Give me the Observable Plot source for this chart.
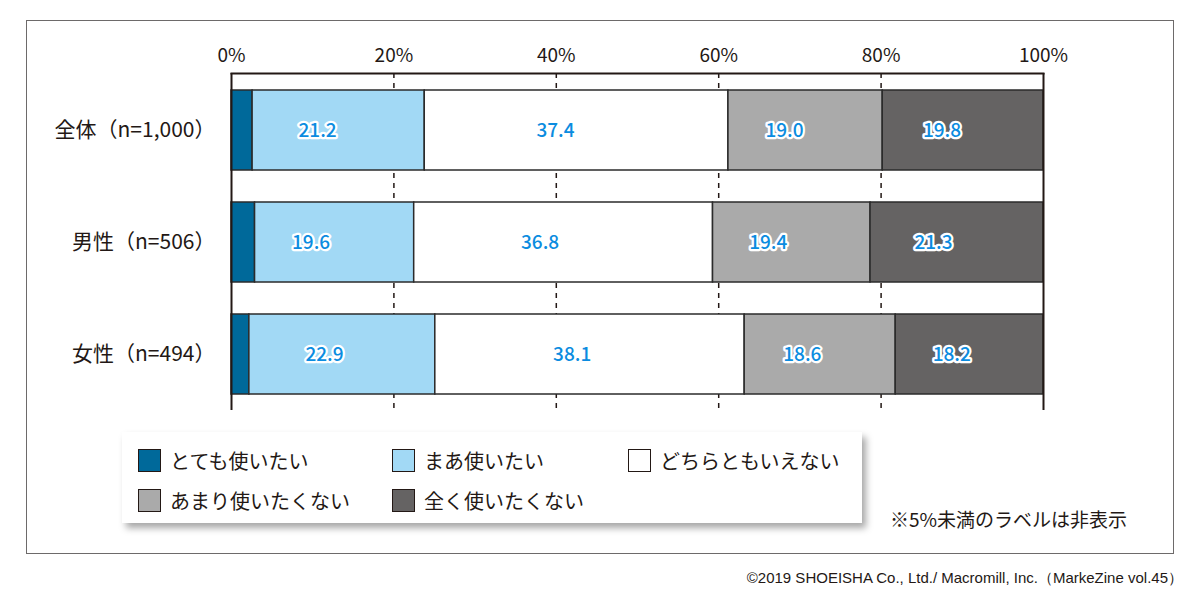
<!DOCTYPE html>
<html>
<head>
<meta charset="utf-8">
<script src="https://cdn.jsdelivr.net/npm/d3@7"></script>
<script src="https://cdn.jsdelivr.net/npm/@observablehq/plot@0.6"></script>
<style>
  html, body { margin: 0; padding: 0; background: #fff; }
  #root { position: relative; width: 1200px; height: 607px; overflow: hidden; font-family: "Noto Sans CJK JP", "Noto Sans", sans-serif; color: #231815; }
  #outer { position: absolute; left: 26px; top: 20px; width: 1146px; height: 532px; border: 1.5px solid #6d6a6a; }
  #chart { position: absolute; left: 0; top: 0; }
  #legend { position: absolute; left: 122px; top: 432px; width: 740px; height: 91px; background: #fff; box-shadow: 4px 5px 7px rgba(0,0,0,0.35); }
  .item { position: absolute; display: flex; align-items: center; font-size: 20px; white-space: nowrap; }
  .sw { width: 23px; height: 23px; border: 1.3px solid #231815; margin-right: 9px; box-sizing: border-box; }
  #note { position: absolute; left: 890px; top: 505px; font-size: 19px; white-space: nowrap; }
  #copy { position: absolute; right: 17px; top: 569px; font-size: 15px; font-family: "Liberation Sans", Arial, sans-serif; white-space: nowrap; }
</style>
</head>
<body>
<div id="root">
  <div id="outer"></div>
  <div id="chart"></div>
  <div id="legend"></div>
  <div id="note">※5%未満のラベルは非表示</div>
  <div id="copy">©2019 SHOEISHA Co., Ltd./ Macromill, Inc.（MarkeZine vol.45）</div>
</div>
<script>
const groups = ["全体（n=1,000）", "男性（n=506）", "女性（n=494）"];
const answers = ["とても使いたい", "まあ使いたい", "どちらともいえない", "あまり使いたくない", "全く使いたくない"];
const colors = ["#00699a", "#a2d9f5", "#ffffff", "#aaaaaa", "#656363"];
const veryMuch = [2.6, 2.9, 2.2];
const somewhat = [21.2, 19.6, 22.9];
const neutral = [37.4, 36.8, 38.1];
const notMuch = [19.0, 19.4, 18.6];
const notAtAll = [19.8, 21.3, 18.2];
const xTicks = [0, 20, 40, 60, 80, 100];
const series = [veryMuch, somewhat, neutral, notMuch, notAtAll];

const data = [];
groups.forEach((g, gi) => {
  answers.forEach((a, ai) => {
    data.push({group: g, answer: a, value: series[ai][gi], order: ai});
  });
});

const chart = Plot.plot({
  width: 1200,
  height: 420,
  marginLeft: 231,
  marginRight: 157,
  marginTop: 73,
  marginBottom: 10,
  style: {fontFamily: "'Noto Sans CJK JP', 'Noto Sans', sans-serif", color: "#231815", background: "transparent"},
  x: {domain: [0, 100], ticks: xTicks, tickFormat: d => d + "%", axis: null},
  y: {domain: groups, paddingInner: 0.287, paddingOuter: 0.1435, axis: null},
  color: {domain: answers, range: colors},
  marks: [
    Plot.ruleX([20, 40, 60, 80], {stroke: "#231815", strokeWidth: 1.5, strokeDasharray: "5,5"}),
    Plot.barX(data, Plot.stackX({x: "value", y: "group", fill: "answer", order: "order", stroke: "#2b2b2b", strokeWidth: 1.5})),
    Plot.text(data.filter(d => d.value >= 5), Plot.stackX({x: "value", y: "group", order: "order", text: d => d.value.toFixed(1), fill: "#0b8ce0", stroke: d => d.order === 2 ? "none" : "white", strokeWidth: 4.5, fontSize: 19, fontWeight: 500})),
    Plot.ruleX([0, 100], {stroke: "#231815", strokeWidth: 2}),
    Plot.frame({anchor: "top", stroke: "#231815", strokeWidth: 2}),
    Plot.axisX({anchor: "top", ticks: xTicks, tickFormat: d => d + "%", tickSize: 0, tickPadding: 12, fontSize: 19, label: null}),
    Plot.axisY({anchor: "left", tickSize: 0, tickPadding: 16, fontSize: 21, label: null})
  ]
});
document.getElementById("chart").appendChild(chart);

const legend = document.getElementById("legend");
const pos = [[16, 16], [270, 16], [506, 16], [16, 56], [270, 56]];
answers.forEach((a, i) => {
  const it = document.createElement("div");
  it.className = "item";
  it.style.left = pos[i][0] + "px";
  it.style.top = pos[i][1] + "px";
  it.style.height = "24px";
  const sw = document.createElement("div");
  sw.className = "sw";
  sw.style.background = colors[i];
  const tx = document.createElement("span");
  tx.textContent = a;
  it.appendChild(sw);
  it.appendChild(tx);
  legend.appendChild(it);
});
</script>
</body>
</html>
